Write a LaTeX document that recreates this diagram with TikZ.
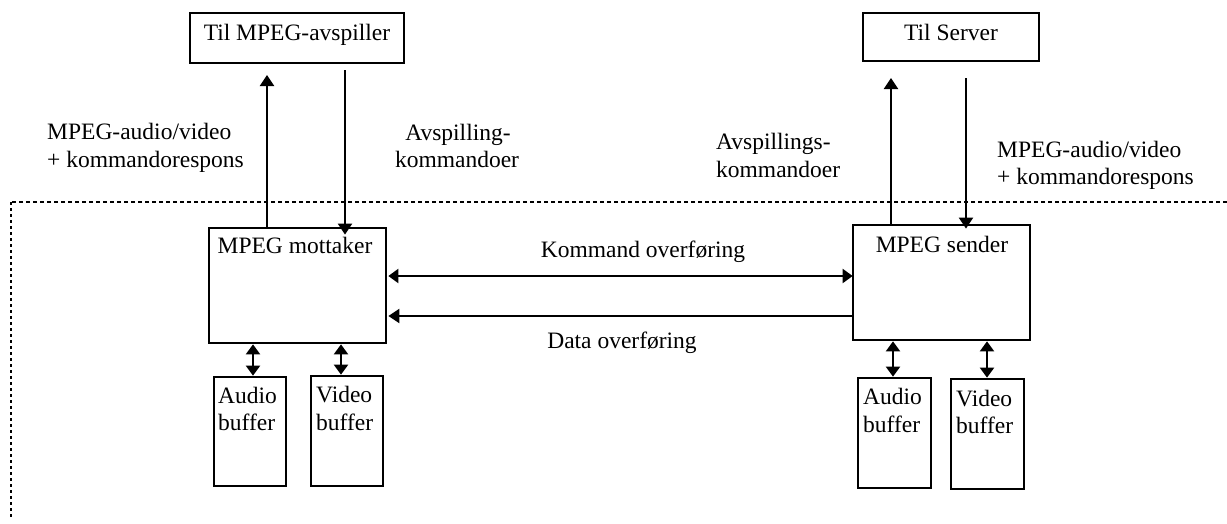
\documentclass[tikz,border=0pt]{standalone}
\usepackage{fontspec}
\setmainfont{Liberation Serif}
\usetikzlibrary{arrows.meta}

\begin{document}
\begin{tikzpicture}[x=1pt,y=-1pt,
  box/.style={draw,line width=2.7pt,inner sep=0pt,fill=white},
  txt/.style={inner sep=0pt,font=\fontsize{23.5}{27.5}\selectfont},
  conn/.style={line width=2.1pt,-{Triangle[length=11pt,width=14pt]}},
  biconn/.style={line width=2.1pt,{Triangle[length=10pt,width=14pt]}-{Triangle[length=10pt,width=14pt]}},
  frametop/.style={line width=1.1pt,dash pattern=on 4pt off 3pt},
  frameside/.style={line width=2.4pt,dash pattern=on 3pt off 3pt}]

\useasboundingbox (0,0) rectangle (1227,523);

% system boundary (open dotted frame)
\coordinate (fTR) at (1227,202);
\coordinate (fTL) at (11,202);
\coordinate (fBL) at (11,518);
\draw[frametop] (fTR) -- (fTL);
\draw[frameside] (fTL) -- (fBL);

% outer endpoints
\node[box,minimum width=214pt,minimum height=50pt] (tmp) at (297,38) {};
\node[txt,anchor=base] (tmpT) at (297,40) {Til MPEG-avspiller};
\node[box,minimum width=176pt,minimum height=48pt] (tsv) at (951,37) {};
\node[txt,anchor=base] (tsvT) at (951,40) {Til Server};

% receiver and sender
\node[box,minimum width=177pt,minimum height=115pt] (mr) at (297.5,285.5) {};
\node[txt,anchor=base] (mrT) at (295,253) {MPEG mottaker};
\node[box,minimum width=177pt,minimum height=115pt] (ms) at (941.5,282.5) {};
\node[txt,anchor=base] (msT) at (942,252) {MPEG sender};

% buffers
\node[box,minimum width=72pt,minimum height=109pt] (lab) at (250,431.5) {};
\node[box,minimum width=72pt,minimum height=110pt] (lvb) at (347,431) {};
\node[box,minimum width=73pt,minimum height=110pt] (rab) at (894.5,433) {};
\node[box,minimum width=73pt,minimum height=110pt] (rvb) at (987.5,434) {};
\node[txt,anchor=base west] (labT1) at (218,403) {Audio};
\node[txt,anchor=base west] (labT2) at (218,430) {buffer};
\node[txt,anchor=base west] (lvbT1) at (316,402) {Video};
\node[txt,anchor=base west] (lvbT2) at (316,430) {buffer};
\node[txt,anchor=base west] (rabT1) at (863,404) {Audio};
\node[txt,anchor=base west] (rabT2) at (863,432) {buffer};
\node[txt,anchor=base west] (rvbT1) at (956,406) {Video};
\node[txt,anchor=base west] (rvbT2) at (956,433) {buffer};

% vertical links to the outer endpoints
\coordinate (lUp) at (267,75);
\coordinate (lDn) at (345,70);
\coordinate (rUp) at (891,78);
\coordinate (rDn) at (966,78);
\draw[conn] (mr.north -| lUp) -- (lUp);
\draw[conn] (lDn) -- ([yshift=-8pt]mr.north -| lDn);
\draw[conn] (ms.north -| rUp) -- (rUp);
\draw[conn] (rDn) -- ([yshift=-5pt]ms.north -| rDn);

\node[txt,anchor=base west] (lblL1) at (47,139) {MPEG-audio/video};
\node[txt,anchor=base west] (lblL2) at (47,167) {+ kommandorespons};
\node[txt,anchor=base] (lblC1) at (458,140) {Avspilling-};
\node[txt,anchor=base] (lblC2) at (457,167) {kommandoer};
\node[txt,anchor=base west] (lblR1) at (716,149) {Avspillings-};
\node[txt,anchor=base west] (lblR2) at (716,177) {kommandoer};
\node[txt,anchor=base west] (lblS1) at (997,157) {MPEG-audio/video};
\node[txt,anchor=base west] (lblS2) at (997,184) {+ kommandorespons};

% links between receiver and sender
\coordinate (kY) at (0,276);
\coordinate (dY) at (0,316);
\draw[biconn] ([xshift=1pt]mr.east |- kY) -- ([xshift=1pt]ms.west |- kY);
\draw[conn] (ms.west |- dY) -- ([xshift=1pt]mr.east |- dY);
\node[txt,anchor=base] (kT) at (643,257) {Kommand overføring};
\node[txt,anchor=base] (dT) at (622,348) {Data overføring};

% buffer links
\draw[biconn] (mr.south -| 253,0) -- (lab.north -| 253,0);
\draw[biconn] (mr.south -| 341,0) -- (lvb.north -| 341,0);
\draw[biconn] (ms.south -| 893,0) -- (rab.north -| 893,0);
\draw[biconn] (ms.south -| 987,0) -- (rvb.north -| 987,0);
\end{tikzpicture}
\end{document}
